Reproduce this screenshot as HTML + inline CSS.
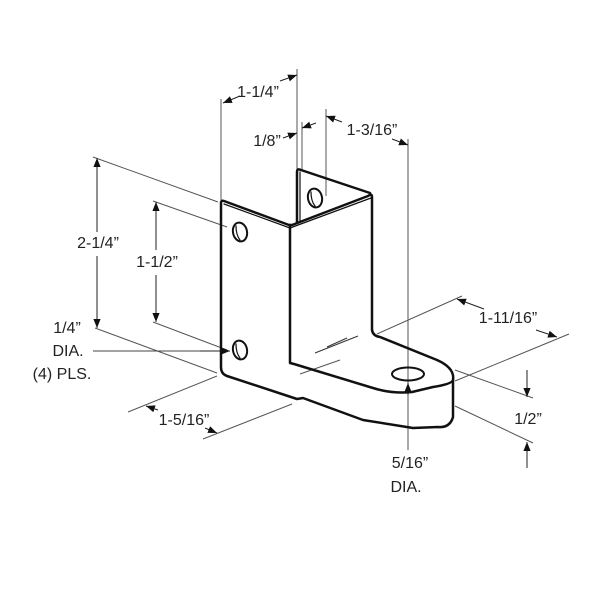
<!DOCTYPE html>
<html><head><meta charset="utf-8"><style>
html,body{margin:0;padding:0;background:#fff;}
svg{display:block;}
text{font-family:"Liberation Sans",sans-serif;font-size:16px;fill:#222;}
</style></head><body>
<svg width="600" height="600" viewBox="0 0 600 600" xmlns="http://www.w3.org/2000/svg">
<defs>
<marker id="a" viewBox="0 0 10 10" refX="10" refY="5" markerWidth="9" markerHeight="9" orient="auto-start-reverse" markerUnits="userSpaceOnUse"><path d="M0,1 L10,5 L0,9 z" fill="#111"/></marker>
</defs>
<g stroke="#555" stroke-width="1" fill="none">
<line x1="221" y1="200" x2="221" y2="99"/>
<line x1="297" y1="170" x2="297" y2="69"/>
<line x1="302" y1="170" x2="302" y2="122"/>
<line x1="326" y1="196" x2="326" y2="109"/>
<line x1="408" y1="139" x2="408" y2="450"/>
<line x1="93" y1="157" x2="218" y2="202"/>
<line x1="95" y1="328" x2="217" y2="373"/>
<line x1="153" y1="201" x2="227" y2="227"/>
<line x1="153" y1="322" x2="227" y2="350"/>
<line x1="93" y1="351" x2="229" y2="351" stroke="#444"/>
<line x1="217" y1="376" x2="128" y2="412"/>
<line x1="292" y1="404" x2="203" y2="439"/>
<line x1="377" y1="334" x2="462" y2="296"/>
<line x1="455" y1="381" x2="569" y2="334"/>
<line x1="455" y1="370" x2="533" y2="398"/>
<line x1="455" y1="406" x2="533" y2="443"/>
<line x1="340" y1="360" x2="300" y2="374"/>
</g>
<g stroke="#222" stroke-width="1" fill="none" marker-end="url(#a)">
<path d="M240,96 L223,103"/><path d="M280,81 L297,75"/>
<path d="M283,138 L297,133"/><path d="M316,123 L302,128"/>
<path d="M342,122 L326,116"/><path d="M392,139 L408,145"/>
<path d="M97,232 L97,158"/><path d="M97,256 L97,328"/>
<path d="M156,250 L156,202"/><path d="M156,275 L156,322"/>
<path d="M158,410 L146,406"/><path d="M205,428 L217,433"/>
<path d="M484,309 L457,299"/><path d="M536,330 L557,337"/>
<path d="M527,370 L527,397"/><path d="M527,468 L527,442"/>
<path d="M408,395 L408,383"/>
<path d="M200,351 L230,351"/>
</g>
<g stroke="#111" stroke-width="2.5" fill="none" stroke-linejoin="round" stroke-linecap="round">
<path d="M221,203 Q221,200 224,201 L289,225 L292,225 L368,196 Q372,193 372,197 L372,330 Q373,336 380,337 L437,360 Q455,368 453,380 L453,417 Q450,428 438,427 L413,428 L363,420 L303,398 L297,399 L227,376 Q221,374 221,367 Z"/>
<path d="M290,225 L290,363 L294,364 L373,388 Q392,394 412,392 L433,387 Q452,384 453,380"/>
<path d="M297,222 L297,172 Q297,168 301,170 L370,193"/>
<path d="M224,204 L290,228 L371,198" stroke-width="1.2"/>
<path d="M300,172 L300,222" stroke-width="1.2"/>
<ellipse cx="408" cy="374" rx="16" ry="6.5" stroke-width="2"/>
<ellipse cx="240" cy="232" rx="7" ry="9.5" transform="rotate(-12 240 232)" stroke-width="2"/>
<ellipse cx="240" cy="350" rx="7" ry="9.5" transform="rotate(-12 240 350)" stroke-width="2"/>
<ellipse cx="315" cy="198" rx="7" ry="9.5" transform="rotate(-12 315 198)" stroke-width="2"/>
<path d="M236,226 Q236,235 240,240" stroke-width="1.2"/>
<path d="M236,344 Q236,353 240,358" stroke-width="1.2"/>
<path d="M311,192 Q311,201 315,206" stroke-width="1.2"/>
</g>
<g stroke="#333" stroke-width="1">
<line x1="315" y1="353" x2="358" y2="336"/>
<line x1="327" y1="347" x2="347" y2="338"/>
</g>
<text x="258" y="97" text-anchor="middle">1-1/4”</text>
<text x="267" y="146" text-anchor="middle">1/8”</text>
<text x="372" y="135" text-anchor="middle">1-3/16”</text>
<text x="98" y="248" text-anchor="middle">2-1/4”</text>
<text x="157" y="267" text-anchor="middle">1-1/2”</text>
<text x="67" y="333" text-anchor="middle">1/4”</text>
<text x="68" y="356" text-anchor="middle">DIA.</text>
<text x="62" y="379" text-anchor="middle">(4) PLS.</text>
<text x="184" y="425" text-anchor="middle">1-5/16”</text>
<text x="508" y="323" text-anchor="middle">1-11/16”</text>
<text x="528" y="424" text-anchor="middle">1/2”</text>
<text x="410" y="468" text-anchor="middle">5/16”</text>
<text x="406" y="492" text-anchor="middle">DIA.</text>
</svg>
</body></html>
